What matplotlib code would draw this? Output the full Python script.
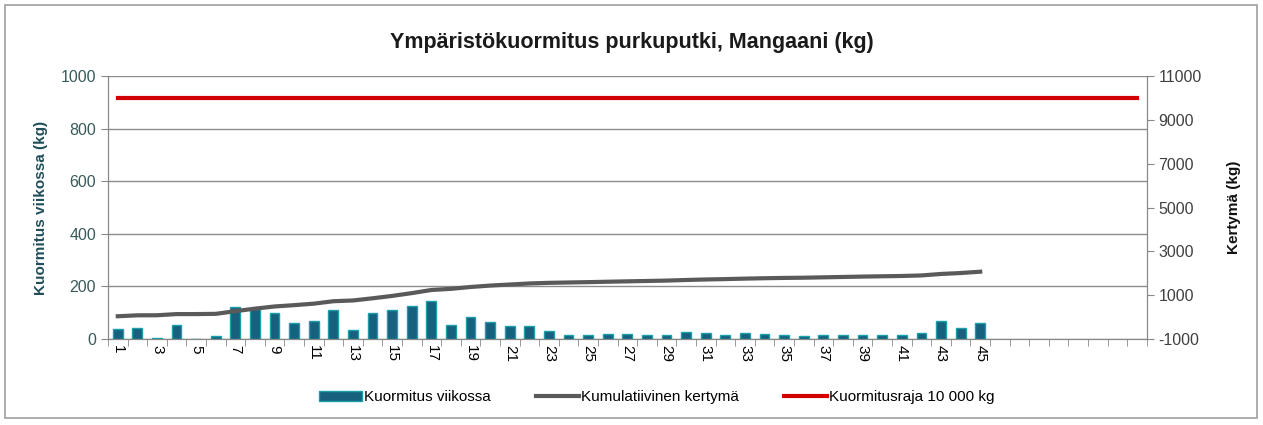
import numpy as np
import matplotlib.pyplot as plt
from matplotlib.patches import Rectangle

plt.rcParams['font.family'] = ['Liberation Sans', 'DejaVu Sans']
plt.rcParams['axes.unicode_minus'] = False

# viikot 1..53, data viikoille 1..45
weeks = list(range(1, 54))
weekly = [38, 42, 3, 53, 1, 10, 123, 115, 99, 60, 68, 111, 35, 99, 109, 127, 143, 53,
          84, 65, 48, 48, 29, 16, 16, 18, 18, 17, 17, 28, 23, 17, 22, 18, 14, 10, 17,
          17, 17, 14, 14, 24, 68, 42, 61]
cumulative = [38, 80, 83, 136, 137, 147, 270, 385, 484, 544, 612, 723, 758, 857, 966,
              1093, 1236, 1289, 1373, 1438, 1486, 1534, 1563, 1579, 1595, 1613, 1631,
              1648, 1665, 1693, 1716, 1733, 1755, 1773, 1787, 1797, 1814, 1831, 1848,
              1862, 1876, 1900, 1968, 2010, 2071]
limit = [10000] * 53

fig = plt.figure(figsize=(12.63, 4.25), dpi=100)
ax = fig.add_axes([0.0855, 0.2024, 0.8225, 0.6186])
ax2 = ax.twinx()

data_weeks = weeks[:len(weekly)]
ax.bar(data_weeks, weekly, width=0.5, color='#17607E', edgecolor='#1AA0A8', linewidth=1.0, zorder=3)
ax2.plot(data_weeks, cumulative, color='#5A5A5A', lw=3, zorder=4)
ax2.plot(weeks, limit, color='#D00000', lw=3, zorder=4)

ax.set_xlim(0.5, 53.5)
ax.set_ylim(0, 1000)
ax.set_yticks(range(0, 1001, 200))
ax2.set_ylim(-1000, 11000)
ax2.set_yticks(range(-1000, 11001, 2000))

ax.set_xticks(range(1, 46, 2))
ax.set_xticklabels([str(w) for w in range(1, 46, 2)], rotation=-90, fontsize=11)
ax.set_xticks(np.arange(0.5, 54, 1), minor=True)
ax.tick_params(axis='x', which='major', length=0, pad=4)
ax.tick_params(axis='x', which='minor', length=5, color='#888888')
ax.tick_params(axis='y', length=5, color='#888888', labelsize=11.5, labelcolor='#3A5A5A')
ax2.tick_params(axis='y', length=5, color='#888888', labelsize=11.5, labelcolor='#404040')

ax.yaxis.grid(True, color='#8C8C8C', lw=1)
ax.set_axisbelow(True)
for a in (ax, ax2):
    a.spines['top'].set_visible(False)
    for s in ('left', 'right', 'bottom'):
        a.spines[s].set_color('#888888')

ax.set_ylabel('Kuormitus viikossa (kg)', fontsize=11, fontweight='bold', color='#1F4E5A', labelpad=9)
ax2.set_ylabel('Kertymä (kg)', fontsize=11, fontweight='bold', color='#111111', labelpad=18)

fig.text(0.5, 0.9, 'Ympäristökuormitus purkuputki, Mangaani (kg)', ha='center', va='center',
         fontsize=15.5, fontweight='bold', color='#1a1a1a')

handles = [Rectangle((0, 0), 1, 1, facecolor='#17607E', edgecolor='#1AA0A8'),
           plt.Line2D([], [], color='#5A5A5A', lw=3),
           plt.Line2D([], [], color='#D00000', lw=3)]
fig.legend(handles, ['Kuormitus viikossa', 'Kumulatiivinen kertymä', 'Kuormitusraja 10 000 kg'],
           loc='center', bbox_to_anchor=(0.52, 0.065), ncol=3, frameon=False, fontsize=11,
           handlelength=2.8, handletextpad=0.1, columnspacing=3)

fig.patches.append(Rectangle((0.004, 0.016), 0.991, 0.972, transform=fig.transFigure,
                             fill=False, edgecolor='#A0A0A0', lw=1.2))

fig.savefig('out.png', dpi=100)
